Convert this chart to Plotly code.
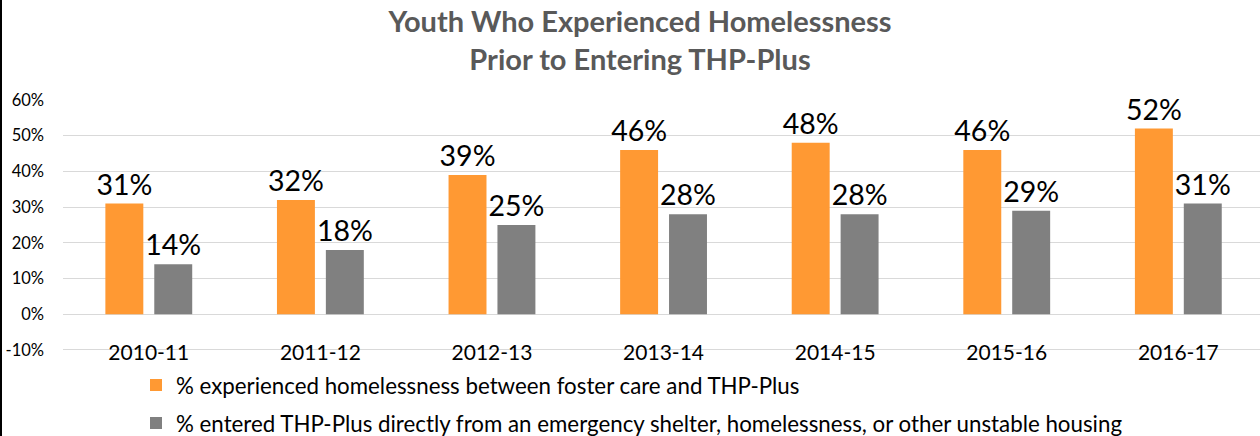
import plotly.graph_objects as go

categories = ["2010-11", "2011-12", "2012-13", "2013-14", "2014-15", "2015-16", "2016-17"]
homeless_between = [31, 32, 39, 46, 48, 46, 52]
entered_unstable = [14, 18, 25, 28, 28, 29, 31]
series_names = [
    "% experienced homelessness between foster care and THP-Plus",
    "% entered THP-Plus directly from an emergency shelter, homelessness, or other unstable housing",
]
y_ticks = [-10, 0, 10, 20, 30, 40, 50, 60]
y_tick_labels = [f"{v}%" for v in y_ticks]

FONT = "Lato, 'Open Sans', sans-serif"
W, H = 1260, 436
ML, MR, MT, MB = 63, 0, 100, 85

fig = go.Figure()
for name, vals, color, grp in [
    (series_names[0], homeless_between, "#FF9933", "a"),
    (series_names[1], entered_unstable, "#808080", "b"),
]:
    fig.add_trace(go.Bar(
        x=categories, y=vals, name=name, legendgroup=grp,
        marker=dict(color=color, line=dict(width=0)),
        text=[f"{v}%" for v in vals], textposition="outside",
        textfont=dict(family=FONT, size=28.5, color="#000000"),
        constraintext="none", cliponaxis=False,
    ))

PH = H - MT - MB
fig.update_layout(
    width=W, height=H,
    margin=dict(l=ML, r=MR, t=MT, b=MB, autoexpand=False),
    paper_bgcolor="white", plot_bgcolor="white",
    barmode="group", bargap=0.43, bargroupgap=0.224,
    title=dict(
        text="<b>Youth Who Experienced Homelessness<br>Prior to Entering THP-Plus</b>",
        x=640 / W, xanchor="center", y=1 - 32 / H, yanchor="middle",
        font=dict(family=FONT, size=29, color="#595959"),
    ),
    font=dict(family=FONT, color="#000000"),
    showlegend=True,
    legend=dict(
        orientation="v", x=(136 - ML) / (W - ML - MR), xanchor="left",
        y=-(364 - (H - MB)) / PH, yanchor="top",
        font=dict(family=FONT, size=22.3, color="#000000"),
        traceorder="grouped", tracegroupgap=6,
        bgcolor="rgba(0,0,0,0)",
    ),
    xaxis=dict(
        type="category", range=[-0.5, 6.476],
        anchor="free", position=(H - MB - 338) / PH,
        showline=False, ticks="", showgrid=False, zeroline=False,
        tickfont=dict(family=FONT, size=21, color="#000000"),
    ),
    yaxis=dict(
        range=[-10.3, 60], tickvals=y_ticks, ticktext=y_tick_labels,
        showgrid=True, gridcolor="#D9D9D9", gridwidth=1,
        zeroline=True, zerolinecolor="#D9D9D9", zerolinewidth=1,
        showline=False, ticks="", ticklabelstandoff=18,
        tickfont=dict(family=FONT, size=16.5, color="#000000"),
    ),
    shapes=[dict(
        type="line", xref="paper", yref="paper",
        x0=(1 - ML) / (W - ML - MR), x1=(1 - ML) / (W - ML - MR),
        y0=-MB / PH, y1=1 + MT / PH,
        line=dict(color="#000000", width=2),
    )],
)

fig.write_html(
    "out.html",
    config={"displayModeBar": False},
    post_script="document.body.style.margin='0px';document.body.style.overflow='hidden';",
)
